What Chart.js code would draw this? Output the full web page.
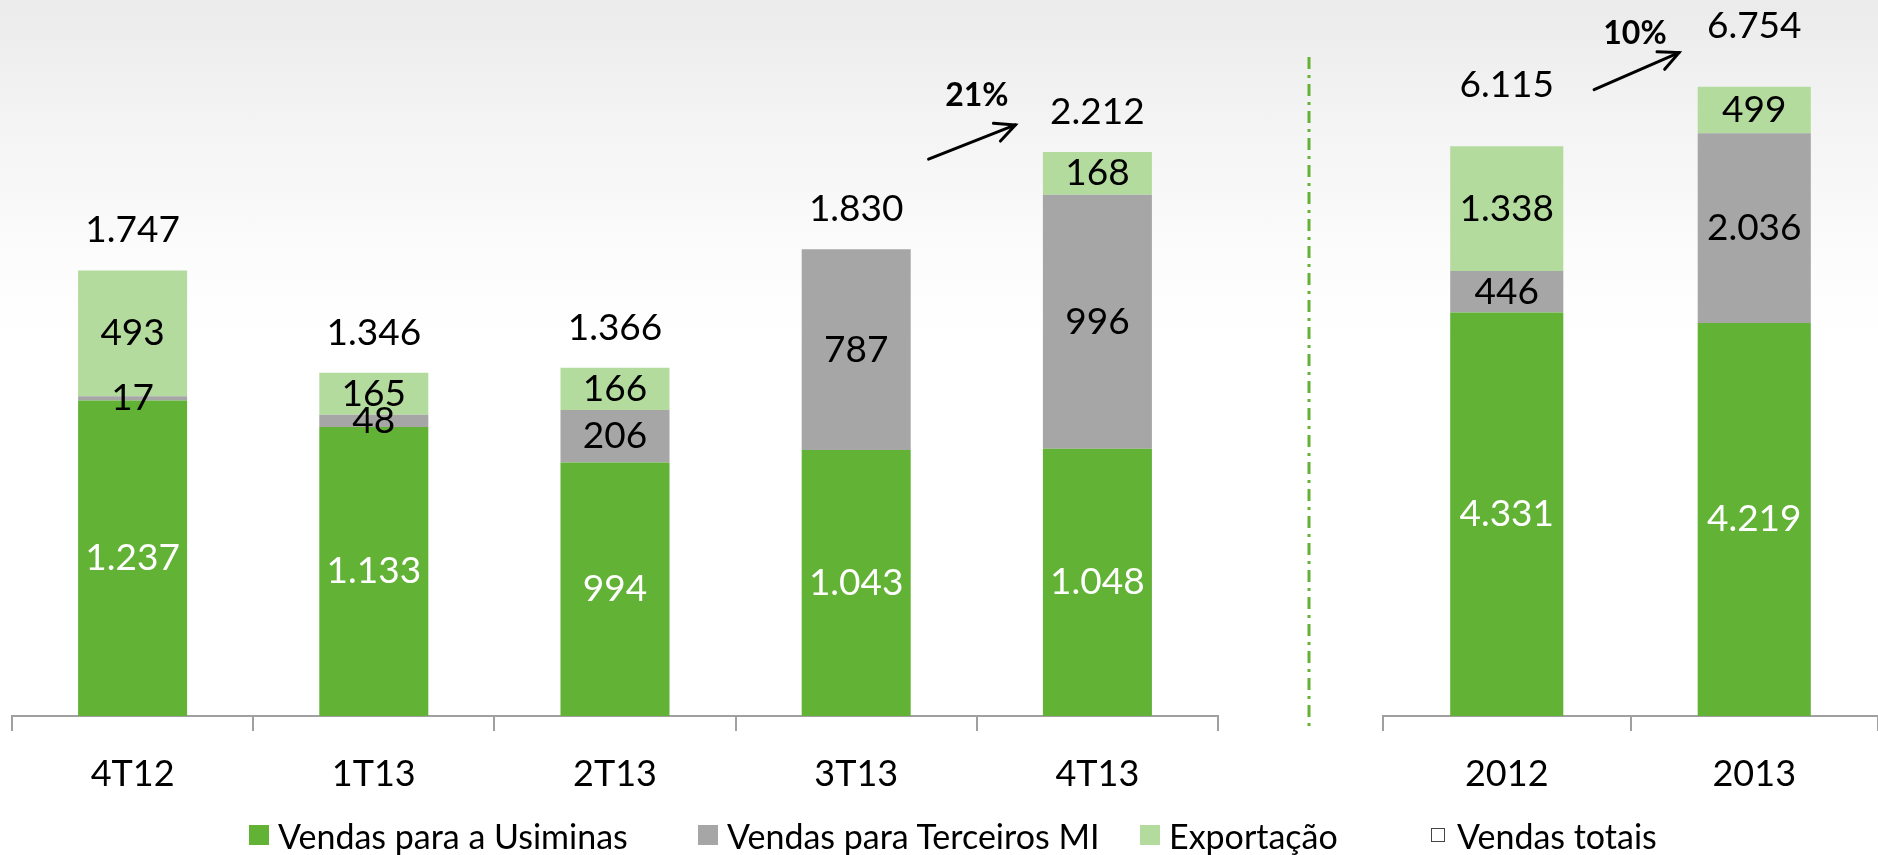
<!DOCTYPE html>
<html><head><meta charset="utf-8">
<script src="https://cdn.jsdelivr.net/npm/chart.js@4.4.1/dist/chart.umd.min.js"></script>
<style>
html,body{margin:0;padding:0;}
body{width:1878px;height:855px;position:relative;overflow:hidden;background:linear-gradient(to bottom,#ebebeb 0px,#f3f3f3 110px,#fcfcfc 260px,#ffffff 340px);font-family:Lato,sans-serif;}
canvas{position:absolute;top:0;left:0;}
.li{position:absolute;top:815px;height:40px;display:flex;align-items:center;font-size:34px;color:#000;white-space:nowrap;}
.sw{display:inline-block;width:20px;height:20px;margin-right:9px;}
.sw.hollow{width:12px;height:12px;border:1.5px solid #444;background:#fff;margin-right:12px;}
</style>
</head><body>
<canvas id="cL" width="1878" height="855"></canvas>
<canvas id="cR" width="1878" height="855"></canvas>
<div class="li" style="left:249px"><span class="sw" style="background:#62B236"></span>Vendas para a Usiminas</div>
<div class="li" style="left:698px"><span class="sw" style="background:#A6A6A6"></span>Vendas para Terceiros MI</div>
<div class="li" style="left:1140px"><span class="sw" style="background:#B3DB9D"></span>Exportação</div>
<div class="li" style="left:1431px"><span class="sw hollow"></span>Vendas totais</div>
<script>
// ---- data ----
const quarterLabels = ['4T12','1T13','2T13','3T13','4T13'];
const quarterUsiminas = [1237,1133,994,1043,1048];
const quarterTerceiros = [17,48,206,787,996];
const quarterExportacao = [493,165,166,null,168];
const quarterTotais = [1747,1346,1366,1830,2212];

const yearLabels = ['2012','2013'];
const yearUsiminas = [4331,4219];
const yearTerceiros = [446,2036];
const yearExportacao = [1338,499];
const yearTotais = [6115,6754];

const seriesNames = ['Vendas para a Usiminas','Vendas para Terceiros MI','Exportação'];
const quarterGrowth = {text:'21%', from:[3.30,2184], to:[3.66,2318], textAt:[3.50,2431]};
const yearGrowth = {text:'10%', from:[0.353,6724], to:[0.696,7121], textAt:[0.518,7325]};

// ---- styles ----
const C_USI = '#62B236', C_TER = '#A6A6A6', C_EXP = '#B3DB9D';
const FONT = 'Lato, sans-serif';
const fmt = v => String(v).replace(/\B(?=(\d{3})+(?!\d))/g, '.');

const labelPlugin = {
  id: 'stackLabels',
  afterDatasetsDraw(chart) {
    const ctx = chart.ctx;
    ctx.save();
    ctx.font = '37px ' + FONT;
    ctx.textAlign = 'center';
    ctx.textBaseline = 'middle';
    chart.data.datasets.forEach((ds, i) => {
      const meta = chart.getDatasetMeta(i);
      meta.data.forEach((el, j) => {
        const v = ds.data[j];
        if (v == null || v === 0) return;
        ctx.fillStyle = ds.labelColor || '#000';
        ctx.fillText(fmt(v), el.x, (el.y + el.base) / 2);
      });
    });
    const o = chart.options.plugins.stackLabels;
    const xs = chart.scales.x, ys = chart.scales.y;
    ctx.fillStyle = '#000';
    o.totals.forEach((t, j) => {
      ctx.fillText(fmt(t), xs.getPixelForValue(j), ys.getPixelForValue(t) - o.offset);
    });
    // growth arrow
    const g = o.growth;
    const x1 = xs.getPixelForValue(g.from[0]), y1 = ys.getPixelForValue(g.from[1]);
    const x2 = xs.getPixelForValue(g.to[0]), y2 = ys.getPixelForValue(g.to[1]);
    ctx.strokeStyle = '#000';
    ctx.lineWidth = 3;
    ctx.lineCap = 'round';
    ctx.beginPath(); ctx.moveTo(x1, y1); ctx.lineTo(x2, y2); ctx.stroke();
    const ang = Math.atan2(y2 - y1, x2 - x1), hl = 22, ha = 0.45;
    ctx.beginPath();
    ctx.moveTo(x2 - hl * Math.cos(ang - ha), y2 - hl * Math.sin(ang - ha));
    ctx.lineTo(x2, y2);
    ctx.lineTo(x2 - hl * Math.cos(ang + ha), y2 - hl * Math.sin(ang + ha));
    ctx.stroke();
    ctx.font = 'bold 32px ' + FONT;
    ctx.fillText(g.text, xs.getPixelForValue(g.textAt[0]), ys.getPixelForValue(g.textAt[1]));
    if (o.separator) {
      const sx = chart.chartArea.left - 74;
      ctx.strokeStyle = C_USI;
      ctx.lineWidth = 3;
      ctx.lineCap = 'butt';
      ctx.setLineDash([12, 6, 3, 6]);
      ctx.beginPath(); ctx.moveTo(sx, 57); ctx.lineTo(sx, 731); ctx.stroke();
    }
    ctx.restore();
  }
};

function makeChart(id, labels, usi, ter, exp, totals, opts) {
  return new Chart(document.getElementById(id), {
    type: 'bar',
    data: {
      labels,
      datasets: [
        {label: seriesNames[0], data: usi, backgroundColor: C_USI, labelColor: '#fff'},
        {label: seriesNames[1], data: ter, backgroundColor: C_TER, labelColor: '#000'},
        {label: seriesNames[2], data: exp, backgroundColor: C_EXP, labelColor: '#000'}
      ]
    },
    options: {
      responsive: false,
      animation: false,
      events: [],
      datasets: {bar: {categoryPercentage: 1, barPercentage: opts.barPct, borderWidth: 0}},
      layout: {padding: opts.padding},
      plugins: {
        legend: {display: false},
        tooltip: {enabled: false},
        stackLabels: {totals, offset: opts.totalOffset, growth: opts.growth, separator: opts.separator}
      },
      scales: {
        x: {
          stacked: true,
          afterFit: s => { s.height = 139; },
          grid: {offset: true, drawOnChartArea: false, drawTicks: true, tickLength: 15, color: '#A0A0A0', lineWidth: 2},
          border: {color: '#A0A0A0', width: 2},
          ticks: {font: {family: FONT, size: 36}, color: '#000', padding: 22}
        },
        y: {stacked: true, display: false, min: 0, max: opts.yMax}
      }
    },
    plugins: [labelPlugin]
  });
}

makeChart('cL', quarterLabels, quarterUsiminas, quarterTerceiros, quarterExportacao, quarterTotais,
  {barPct: 0.452, padding: {left: 12, right: 660, top: 2, bottom: 0}, yMax: 2800, totalOffset: 40, growth: quarterGrowth, separator: false});
makeChart('cR', yearLabels, yearUsiminas, yearTerceiros, yearExportacao, yearTotais,
  {barPct: 0.457, padding: {left: 1383, right: 0, top: 8, bottom: 0}, yMax: 7600, totalOffset: 61, growth: yearGrowth, separator: true});
</script>
</body></html>
